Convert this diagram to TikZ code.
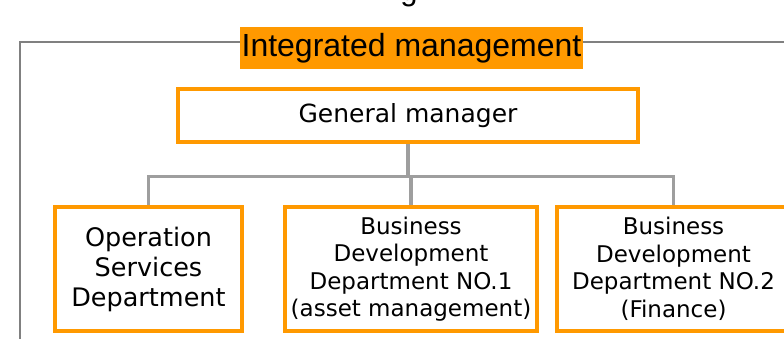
\documentclass[tikz,border=0pt]{standalone}
\usepackage{fontspec}
\setmainfont{DejaVu Sans}
\newfontfamily\labelfont{Liberation Sans}
\usetikzlibrary{positioning, calc}
\definecolor{orgorange}{RGB}{255,153,0}
\definecolor{framegray}{RGB}{128,128,128}
\definecolor{linkgray}{RGB}{158,158,158}

\begin{document}
\begin{tikzpicture}[
                x=1pt, y=-1pt,
                unit/.style={rectangle, draw=orgorange, line width=3.5pt, fill=white, align=center, inner sep=0pt, font=\fontsize{23}{27.5}\selectfont},
                tag/.style={rectangle, fill=orgorange, inner sep=0pt, minimum width=343pt, minimum height=42pt, font=\labelfont\fontsize{32}{36}\selectfont},
                link/.style={draw=linkgray, line width=3.5pt},
                frame/.style={draw=framegray, line width=2.5pt}
            ]
                \useasboundingbox (0,0) rectangle (784,339);

                % cut-off title above
                \node[anchor=base, inner sep=0pt, font=\labelfont\fontsize{31}{36}\selectfont] (head) at (409,0.5) {g};

                % Frame and its label
                \coordinate (fbl) at (20,345);
                \coordinate (ftl) at (20,42);
                \coordinate (ftr) at (790,42);
                \draw[frame] (fbl) -- (ftl) -- (ftr);
                \node[tag] (title) at (411.5,48) {Integrated management};

                % Top of the chart
                \node[unit, minimum width=460pt, minimum height=53pt, font=\fontsize{25}{30}\selectfont] (gm) at (408,115.5) {General manager};

                % Departments
                \node[unit, minimum width=187pt, minimum height=124pt, font=\fontsize{25.5}{30}\selectfont] (ops) at (148.5,269) {Operation\\Services\\Department};
                \node[unit, minimum width=252pt, minimum height=124pt] (bd1) at (411,269) {Business\\Development\\Department NO.1\\(asset management)};
                \node[unit, minimum width=233pt, minimum height=124pt] (bd2) at (673.5,269) {Business\\Development\\Department NO.2\\(Finance)};

                \coordinate (fork) at ($(gm.south)+(0,33)$);
                \path[link] (gm.south) -- (fork);
                \path[link] (fork) -| (ops.north);
                \path[link] (fork) -| (bd1.north);
                \path[link] (fork) -| (bd2.north);
            \end{tikzpicture}
\end{document}
